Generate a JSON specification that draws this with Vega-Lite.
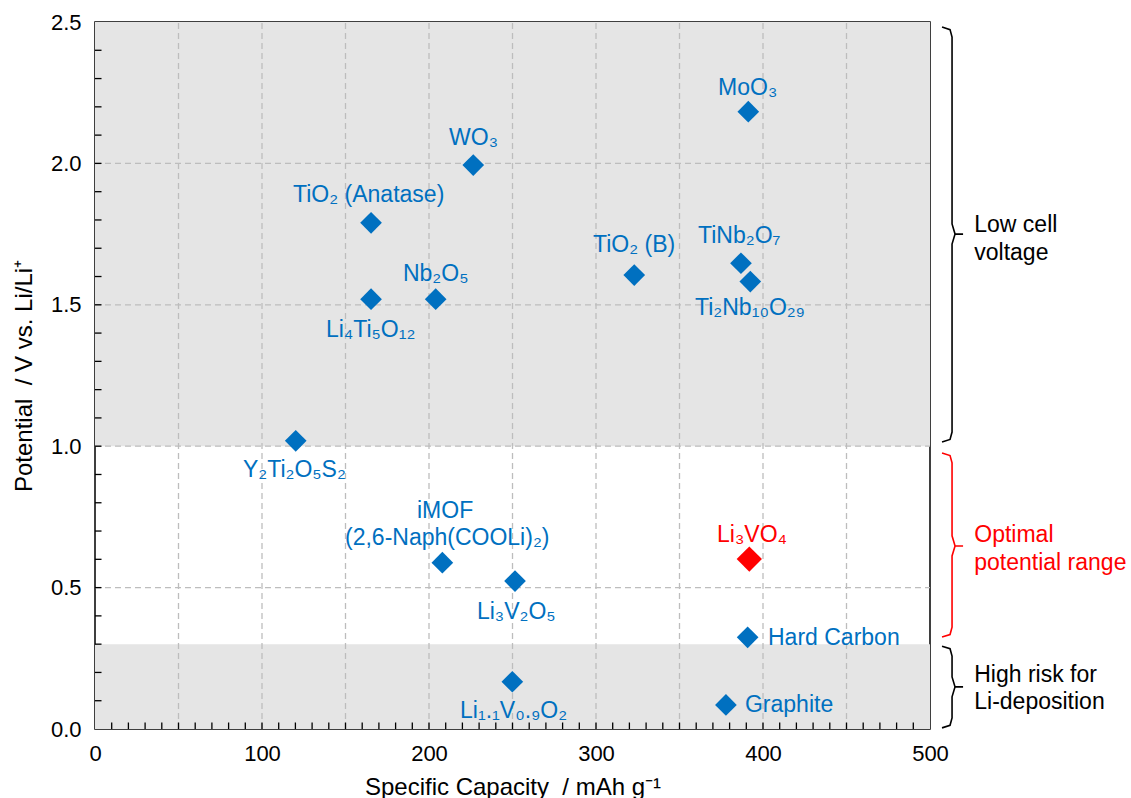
{
  "$schema": "https://vega.github.io/schema/vega-lite/v6.json",
  "autosize": "none",
  "width": 835,
  "height": 707,
  "padding": {"left": 95, "top": 22, "right": 201, "bottom": 69},
  "background": "white",
  "config": {
    "view": {"stroke": "black", "strokeWidth": 1.5},
    "font": "Liberation Sans",
    "axis": {"grid": false, "ticks": false, "tickSize": 0, "domain": false, "labelFont": "Liberation Sans", "labelFontSize": 22, "labelColor": "black", "labelPadding": 14, "labelFlush": false, "labelOverlap": false, "titleFont": "Liberation Sans", "titleFontSize": 24, "titleFontWeight": "normal", "titleColor": "black"}
  },
  "datasets": {
    "bands": [{"lo": 1.0, "hi": 2.5}, {"lo": 0.0, "hi": 0.3}],
    "gridx": [{"v": 50}, {"v": 100}, {"v": 150}, {"v": 200}, {"v": 250}, {"v": 300}, {"v": 350}, {"v": 400}, {"v": 450}],
    "gridy": [{"v": 0.5}, {"v": 1.0}, {"v": 1.5}, {"v": 2.0}],
    "ticksx": [{"v":10},{"v":20},{"v":30},{"v":40},{"v":50},{"v":60},{"v":70},{"v":80},{"v":90},{"v":100},{"v":110},{"v":120},{"v":130},{"v":140},{"v":150},{"v":160},{"v":170},{"v":180},{"v":190},{"v":200},{"v":210},{"v":220},{"v":230},{"v":240},{"v":250},{"v":260},{"v":270},{"v":280},{"v":290},{"v":300},{"v":310},{"v":320},{"v":330},{"v":340},{"v":350},{"v":360},{"v":370},{"v":380},{"v":390},{"v":400},{"v":410},{"v":420},{"v":430},{"v":440},{"v":450},{"v":460},{"v":470},{"v":480},{"v":490}],
    "ticksy": [{"v":0.1},{"v":0.2},{"v":0.3},{"v":0.4},{"v":0.5},{"v":0.6},{"v":0.7},{"v":0.8},{"v":0.9},{"v":1.0},{"v":1.1},{"v":1.2},{"v":1.3},{"v":1.4},{"v":1.5},{"v":1.6},{"v":1.7},{"v":1.8},{"v":1.9},{"v":2.0},{"v":2.1},{"v":2.2},{"v":2.3},{"v":2.4}],
    "pts": [
      {"name": "MoO3", "cap": 391.2, "pot": 2.183, "kind": "material"},
      {"name": "WO3", "cap": 226.5, "pot": 1.994, "kind": "material"},
      {"name": "TiO2 (Anatase)", "cap": 165.3, "pot": 1.790, "kind": "material"},
      {"name": "Nb2O5", "cap": 204.0, "pot": 1.520, "kind": "material"},
      {"name": "Li4Ti5O12", "cap": 165.3, "pot": 1.520, "kind": "material"},
      {"name": "TiO2 (B)", "cap": 322.9, "pot": 1.605, "kind": "material"},
      {"name": "TiNb2O7", "cap": 386.8, "pot": 1.647, "kind": "material"},
      {"name": "Ti2Nb10O29", "cap": 392.4, "pot": 1.582, "kind": "material"},
      {"name": "Y2Ti2O5S2", "cap": 120.2, "pot": 1.019, "kind": "material"},
      {"name": "iMOF", "cap": 208.0, "pot": 0.588, "kind": "material"},
      {"name": "Li3V2O5", "cap": 251.5, "pot": 0.523, "kind": "material"},
      {"name": "Li3VO4", "cap": 391.8, "pot": 0.601, "kind": "target"},
      {"name": "Hard Carbon", "cap": 390.8, "pot": 0.324, "kind": "material"},
      {"name": "Li1.1V0.9O2", "cap": 249.9, "pot": 0.167, "kind": "material"},
      {"name": "Graphite", "cap": 377.8, "pot": 0.085, "kind": "material"}
    ],
    "labels": [
      {"text": "MoO₃", "lx": 373.1, "ly": 2.242, "kind": "material"},
      {"text": "WO₃", "lx": 212.0, "ly": 2.065, "kind": "material"},
      {"text": "TiO₂ (Anatase)", "lx": 118.6, "ly": 1.863, "kind": "material"},
      {"text": "Nb₂O₅", "lx": 184.4, "ly": 1.584, "kind": "material"},
      {"text": "Li₄Ti₅O₁₂", "lx": 138.3, "ly": 1.386, "kind": "material"},
      {"text": "Y₂Ti₂O₅S₂", "lx": 88.6, "ly": 0.891, "kind": "material"},
      {"text": "TiO₂ (B)", "lx": 298.2, "ly": 1.687, "kind": "material"},
      {"text": "TiNb₂O₇", "lx": 361.1, "ly": 1.719, "kind": "material"},
      {"text": "Ti₂Nb₁₀O₂₉", "lx": 359.3, "ly": 1.464, "kind": "material"},
      {"text": "iMOF", "lx": 192.8, "ly": 0.746, "kind": "material"},
      {"text": "(2,6-Naph(COOLi)₂)", "lx": 149.7, "ly": 0.651, "kind": "material"},
      {"text": "Li₃V₂O₅", "lx": 228.7, "ly": 0.389, "kind": "material"},
      {"text": "Li₃VO₄", "lx": 372.5, "ly": 0.661, "kind": "target"},
      {"text": "Hard Carbon", "lx": 403.0, "ly": 0.297, "kind": "material"},
      {"text": "Graphite", "lx": 389.2, "ly": 0.060, "kind": "material"},
      {"text": "Li₁.₁V₀.₉O₂", "lx": 218.6, "ly": 0.039, "kind": "material"}
    ],
    "notes": [
      {"text": "Low cell", "nx": 526.5, "ny": 1.757, "kind": "note"},
      {"text": "voltage", "nx": 526.5, "ny": 1.658, "kind": "note"},
      {"text": "Optimal", "nx": 526.5, "ny": 0.661, "kind": "target"},
      {"text": "potential range", "nx": 526.5, "ny": 0.562, "kind": "target"},
      {"text": "High risk for", "nx": 526.5, "ny": 0.166, "kind": "note"},
      {"text": "Li-deposition", "nx": 526.5, "ny": 0.071, "kind": "note"}
    ],
    "brackets": [
      {"id": "a", "ord": 1, "bx": 507.2, "by": 2.482, "kind": "note"},
      {"id": "a", "ord": 2, "bx": 512.0, "by": 2.473, "kind": "note"},
      {"id": "a", "ord": 3, "bx": 513.2, "by": 2.447, "kind": "note"},
      {"id": "a", "ord": 4, "bx": 513.2, "by": 1.786, "kind": "note"},
      {"id": "a", "ord": 5, "bx": 515.0, "by": 1.750, "kind": "note"},
      {"id": "a", "ord": 6, "bx": 519.8, "by": 1.750, "kind": "note"},
      {"id": "a", "ord": 7, "bx": 515.0, "by": 1.750, "kind": "note"},
      {"id": "a", "ord": 8, "bx": 513.2, "by": 1.715, "kind": "note"},
      {"id": "a", "ord": 9, "bx": 513.2, "by": 1.050, "kind": "note"},
      {"id": "a", "ord": 10, "bx": 512.0, "by": 1.024, "kind": "note"},
      {"id": "a", "ord": 11, "bx": 507.2, "by": 1.015, "kind": "note"},
      {"id": "b", "ord": 1, "bx": 507.2, "by": 0.976, "kind": "target"},
      {"id": "b", "ord": 2, "bx": 512.0, "by": 0.967, "kind": "target"},
      {"id": "b", "ord": 3, "bx": 513.2, "by": 0.941, "kind": "target"},
      {"id": "b", "ord": 4, "bx": 513.2, "by": 0.683, "kind": "target"},
      {"id": "b", "ord": 5, "bx": 515.0, "by": 0.647, "kind": "target"},
      {"id": "b", "ord": 6, "bx": 519.8, "by": 0.647, "kind": "target"},
      {"id": "b", "ord": 7, "bx": 515.0, "by": 0.647, "kind": "target"},
      {"id": "b", "ord": 8, "bx": 513.2, "by": 0.612, "kind": "target"},
      {"id": "b", "ord": 9, "bx": 513.2, "by": 0.360, "kind": "target"},
      {"id": "b", "ord": 10, "bx": 512.0, "by": 0.334, "kind": "target"},
      {"id": "b", "ord": 11, "bx": 507.2, "by": 0.325, "kind": "target"},
      {"id": "c", "ord": 1, "bx": 507.2, "by": 0.293, "kind": "note"},
      {"id": "c", "ord": 2, "bx": 512.0, "by": 0.284, "kind": "note"},
      {"id": "c", "ord": 3, "bx": 513.2, "by": 0.258, "kind": "note"},
      {"id": "c", "ord": 4, "bx": 513.2, "by": 0.184, "kind": "note"},
      {"id": "c", "ord": 5, "bx": 515.0, "by": 0.149, "kind": "note"},
      {"id": "c", "ord": 6, "bx": 519.8, "by": 0.149, "kind": "note"},
      {"id": "c", "ord": 7, "bx": 515.0, "by": 0.149, "kind": "note"},
      {"id": "c", "ord": 8, "bx": 513.2, "by": 0.114, "kind": "note"},
      {"id": "c", "ord": 9, "bx": 513.2, "by": 0.039, "kind": "note"},
      {"id": "c", "ord": 10, "bx": 512.0, "by": 0.013, "kind": "note"},
      {"id": "c", "ord": 11, "bx": 507.2, "by": 0.004, "kind": "note"}
    ]
  },
  "layer": [
    {
      "data": {"name": "bands"},
      "mark": {"type": "rect", "color": "#e5e5e5"},
      "encoding": {
        "x": {"datum": 0, "type": "quantitative", "scale": {"domain": [0, 500], "nice": false, "zero": false}, "title": "Specific Capacity\u00a0 / mAh g⁻¹", "axis": {"values": [0, 100, 200, 300, 400, 500], "title": "Specific Capacity\u00a0 / mAh g⁻¹", "titleY": 65, "titleBaseline": "alphabetic"}},
        "x2": {"datum": 500},
        "y": {"field": "lo", "type": "quantitative", "scale": {"domain": [0, 2.5], "nice": false, "zero": false}, "title": "Potential\u00a0 / V vs. Li/Li⁺", "axis": {"values": [0, 0.5, 1.0, 1.5, 2.0, 2.5], "format": ".1f", "title": "Potential\u00a0 / V vs. Li/Li⁺", "titleX": -64, "titleY": 353.5, "titleBaseline": "alphabetic", "titleAlign": "center"}},
        "y2": {"field": "hi"}
      }
    },
    {
      "data": {"name": "gridx"},
      "mark": {"type": "rule", "color": "#bdbdbd", "strokeWidth": 1.3, "strokeDash": [6, 4]},
      "encoding": {
        "x": {"field": "v", "type": "quantitative", "title": "Specific Capacity\u00a0 / mAh g⁻¹"},
        "y": {"datum": 0, "type": "quantitative", "title": "Potential\u00a0 / V vs. Li/Li⁺"},
        "y2": {"datum": 2.5}
      }
    },
    {
      "data": {"name": "gridy"},
      "mark": {"type": "rule", "color": "#bdbdbd", "strokeWidth": 1.3, "strokeDash": [6, 4]},
      "encoding": {
        "y": {"field": "v", "type": "quantitative", "title": "Potential\u00a0 / V vs. Li/Li⁺"},
        "x": {"datum": 0, "type": "quantitative", "title": "Specific Capacity\u00a0 / mAh g⁻¹"},
        "x2": {"datum": 500}
      }
    },
    {
      "data": {"name": "ticksx"},
      "mark": {"type": "rule", "color": "black", "strokeWidth": 1.3},
      "encoding": {
        "x": {"field": "v", "type": "quantitative", "title": "Specific Capacity\u00a0 / mAh g⁻¹"},
        "y": {"datum": 0, "type": "quantitative", "title": "Potential\u00a0 / V vs. Li/Li⁺"},
        "y2": {"datum": 0.023}
      }
    },
    {
      "data": {"name": "ticksy"},
      "mark": {"type": "rule", "color": "black", "strokeWidth": 1.3},
      "encoding": {
        "y": {"field": "v", "type": "quantitative", "title": "Potential\u00a0 / V vs. Li/Li⁺"},
        "x": {"datum": 0, "type": "quantitative", "title": "Specific Capacity\u00a0 / mAh g⁻¹"},
        "x2": {"datum": 3.9}
      }
    },
    {
      "data": {"name": "pts"},
      "mark": {"type": "point", "shape": "diamond", "filled": true, "opacity": 1},
      "encoding": {
        "x": {"field": "cap", "type": "quantitative", "title": "Specific Capacity\u00a0 / mAh g⁻¹"},
        "y": {"field": "pot", "type": "quantitative", "title": "Potential\u00a0 / V vs. Li/Li⁺"},
        "color": {"field": "kind", "type": "nominal", "scale": {"domain": ["material", "target", "note"], "range": ["#0070C0", "#FF0000", "#000000"]}, "legend": null},
        "size": {"field": "kind", "type": "ordinal", "scale": {"domain": ["material", "target"], "range": [470, 640]}, "legend": null}
      }
    },
    {
      "data": {"name": "labels"},
      "mark": {"type": "text", "align": "left", "baseline": "alphabetic", "fontSize": 23, "font": "Liberation Sans"},
      "encoding": {
        "x": {"field": "lx", "type": "quantitative", "title": "Specific Capacity\u00a0 / mAh g⁻¹"},
        "y": {"field": "ly", "type": "quantitative", "title": "Potential\u00a0 / V vs. Li/Li⁺"},
        "text": {"field": "text"},
        "color": {"field": "kind", "type": "nominal", "legend": null}
      }
    },
    {
      "data": {"name": "notes"},
      "mark": {"type": "text", "align": "left", "baseline": "alphabetic", "fontSize": 23, "font": "Liberation Sans"},
      "encoding": {
        "x": {"field": "nx", "type": "quantitative", "title": "Specific Capacity\u00a0 / mAh g⁻¹"},
        "y": {"field": "ny", "type": "quantitative", "title": "Potential\u00a0 / V vs. Li/Li⁺"},
        "text": {"field": "text"},
        "color": {"field": "kind", "type": "nominal", "legend": null}
      }
    },
    {
      "data": {"name": "brackets"},
      "mark": {"type": "line", "strokeWidth": 1.6},
      "encoding": {
        "x": {"field": "bx", "type": "quantitative", "title": "Specific Capacity\u00a0 / mAh g⁻¹"},
        "y": {"field": "by", "type": "quantitative", "title": "Potential\u00a0 / V vs. Li/Li⁺"},
        "detail": {"field": "id"},
        "order": {"field": "ord", "type": "quantitative"},
        "color": {"field": "kind", "type": "nominal", "legend": null}
      }
    }
  ]
}
